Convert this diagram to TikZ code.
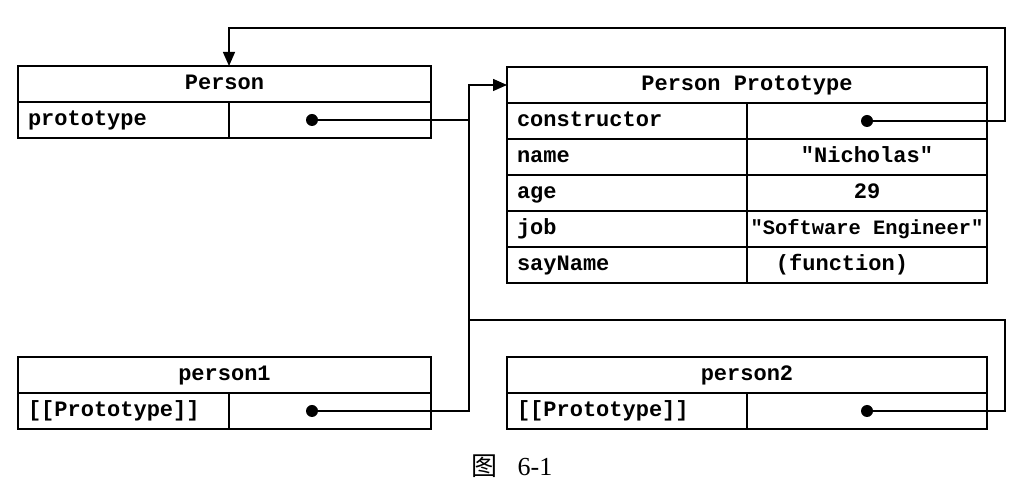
\documentclass[tikz,border=0pt]{standalone}
\usepackage{fontspec}
\setmainfont{Liberation Serif}
\setmonofont{Liberation Mono}
\newfontfamily\cjkfont{Noto Sans CJK SC}
\usepackage{tikz}
\usetikzlibrary{arrows.meta,positioning}

\begin{document}
\begin{tikzpicture}[x=0.5pt, y=-0.5pt, >={Triangle[length=7pt,width=6pt]},
  every node/.style={font=\ttfamily\bfseries\fontsize{11}{13}\selectfont},
  cell/.style={draw, line width=0.8pt, minimum height=18pt, inner sep=0pt, outer sep=0pt,
    text height=7.5pt, text depth=2pt},
  head/.style={cell, minimum width=#1, anchor=north west},
  key/.style={cell, text width=#1, inner xsep=5pt, align=left},
  val/.style={cell, minimum width=#1},
  dot/.style={circle, fill, inner sep=0pt, minimum size=6pt},
  link/.style={line width=0.7pt}]
  \useasboundingbox (0,0) rectangle (1024,491);
  \node[head=206.5pt] (person) at (18,66) {Person};
  \node[key=95.5pt, below=0pt of person.south west, anchor=north west] (protoK) {prototype};
  \node[val=101pt, right=0pt of protoK] (protoV) {};
  \node[head=240pt] (pp) at (507,67) {Person Prototype};
  \node[key=110pt, below=0pt of pp.south west, anchor=north west] (ctorK) {constructor};
  \node[val=120pt, right=0pt of ctorK] (ctorV) {};
  \node[key=110pt, below=0pt of ctorK] (nameK) {name};
  \node[val=120pt, right=0pt of nameK] (nameV) {"Nicholas"};
  \node[key=110pt, below=0pt of nameK] (ageK) {age};
  \node[val=120pt, right=0pt of ageK] (ageV) {29};
  \node[key=110pt, below=0pt of ageK] (jobK) {job};
  \node[val=120pt, right=0pt of jobK, font=\ttfamily\bfseries\fontsize{10.2}{12}\selectfont] (jobV) {"Software Engineer"};
  \node[key=110pt, below=0pt of jobK] (sayK) {sayName};
  \node[val=120pt, right=0pt of sayK] (sayV) {(function)\hspace{25pt}\null};
  \node[head=206.5pt] (p1) at (18,357) {person1};
  \node[key=95.5pt, below=0pt of p1.south west, anchor=north west] (p1K) {[[Prototype]]};
  \node[val=101pt, right=0pt of p1K] (p1V) {};
  \node[head=240pt] (p2) at (507,357) {person2};
  \node[key=110pt, below=0pt of p2.south west, anchor=north west] (p2K) {[[Prototype]]};
  \node[val=120pt, right=0pt of p2K] (p2V) {};
  \node[dot] (protoDot) at ([xshift=-9pt]protoV.center) {};
  \node[dot] (ctorDot) at (ctorV.center) {};
  \node[dot] (p1Dot) at ([xshift=-9pt]p1V.center) {};
  \node[dot] (p2Dot) at (p2V.center) {};
  \coordinate (bus) at (469,0);
  \coordinate (rim) at (1005,0);
  \coordinate (top) at (0,28);
  \coordinate (mid) at (0,320);
  \draw[link, ->] (p1Dot) -| (bus |- p1Dot) |- (pp.west);
  \draw[link] (protoDot) -- (bus |- protoDot);
  \draw[link] (p2Dot) -| (rim |- mid) -- (bus |- mid);
  \draw[link, ->] (ctorDot) -| (rim |- top) -| (protoV.west |- person.north);
  \node[font=\rmfamily\fontsize{13}{15}\selectfont] (caption) at (512,466) {{\cjkfont 图}\hspace{10pt}6-1};
\end{tikzpicture}
\end{document}
